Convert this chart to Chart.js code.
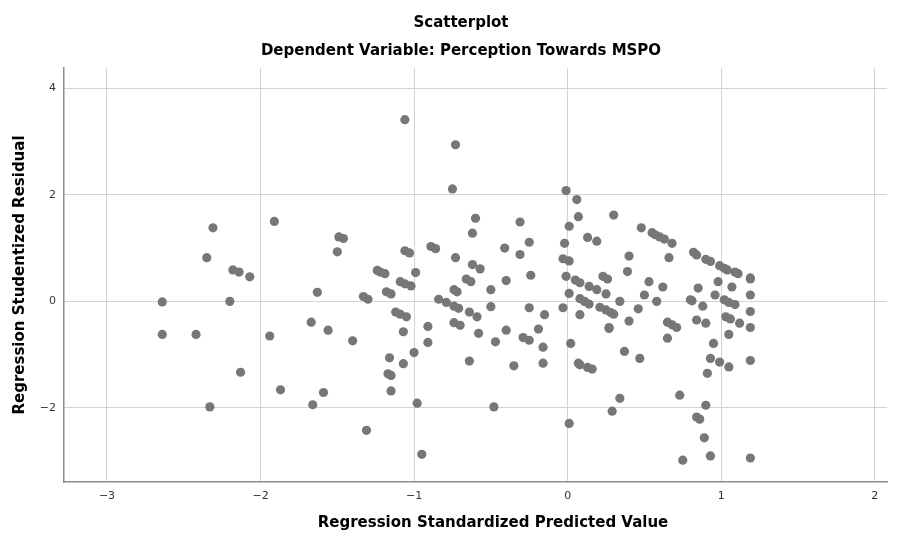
<!DOCTYPE html>
<html>
<head>
<meta charset="utf-8">
<script src="https://cdn.jsdelivr.net/npm/chart.js@4.4.1/dist/chart.umd.min.js"></script>
<style>
    html, body { margin: 0; padding: 0; background: #fff; }
    #wrap { width: 905px; height: 534px; }
</style>
</head>
<body>
<div id="wrap"><canvas id="chart" width="905" height="534"></canvas></div>
<script>
const TITLE = "Scatterplot";
const SUBTITLE = "Dependent Variable: Perception Towards MSPO";
const X_TITLE = "Regression Standardized Predicted Value";
const Y_TITLE = "Regression Studentized Residual";

// Regression standardized predicted value (x) and studentized residual (y)
const predicted = [
    -2.64, -2.64, -2.42, -2.35, -2.31, -2.33, -2.20, -2.18, -2.14, -2.13,
    -2.07, -1.94, -1.91, -1.87, -1.67, -1.66, -1.63, -1.59, -1.56, -1.49,
    -1.46, -1.50, -1.40, -1.33, -1.30, -1.31, -1.24, -1.22, -1.19, -1.18,
    -1.15, -1.17, -1.15, -1.15, -1.16, -1.12, -1.09, -1.05, -1.09, -1.06,
    -1.02, -1.07, -1.07, -1.06, -1.03, -1.06, -1.00, -0.99, -0.98, -0.95,
    -0.91, -0.91, -0.89, -0.86, -0.84, -0.79, -0.75, -0.73, -0.73, -0.74,
    -0.72, -0.74, -0.71, -0.74, -0.70, -0.66, -0.63, -0.64, -0.59, -0.64,
    -0.62, -0.62, -0.60, -0.58, -0.57, -0.50, -0.50, -0.48, -0.47, -0.41,
    -0.40, -0.40, -0.35, -0.31, -0.31, -0.29, -0.25, -0.25, -0.25, -0.24,
    -0.19, -0.16, -0.16, -0.15, -0.03, -0.03, -0.02, -0.01, -0.01, 0.01,
    0.01, 0.01, 0.01, 0.02, 0.05, 0.06, 0.07, 0.07, 0.08, 0.08,
    0.08, 0.08, 0.11, 0.13, 0.13, 0.14, 0.14, 0.16, 0.19, 0.19,
    0.21, 0.23, 0.25, 0.25, 0.26, 0.27, 0.27, 0.28, 0.29, 0.30,
    0.30, 0.34, 0.34, 0.37, 0.39, 0.40, 0.40, 0.46, 0.47, 0.48,
    0.50, 0.53, 0.55, 0.57, 0.58, 0.60, 0.62, 0.63, 0.65, 0.65,
    0.66, 0.68, 0.68, 0.71, 0.73, 0.75, 0.80, 0.81, 0.82, 0.84,
    0.84, 0.84, 0.86, 0.85, 0.88, 0.89, 0.90, 0.90, 0.90, 0.91,
    0.93, 0.93, 0.93, 0.95, 0.96, 0.98, 0.99, 0.99, 1.02, 1.02,
    1.03, 1.04, 1.05, 1.05, 1.05, 1.06, 1.07, 1.09, 1.11, 1.09,
    1.12, 1.19, 1.19, 1.19, 1.19, 1.19, 1.19, 1.19
];

const residual = [
    -0.01, -0.62, -0.62, 0.82, 1.38, -1.98, 0.00, 0.59, 0.55, -1.33,
    0.46, -0.65, 1.50, -1.66, -0.39, -1.94, 0.17, -1.71, -0.54, 1.21,
    1.18, 0.93, -0.74, 0.09, 0.04, -2.42, 0.58, 0.55, 0.52, 0.18,
    0.14, -1.36, -1.39, -1.68, -1.06, -0.20, -0.24, -0.29, 0.37, 0.33,
    0.29, -0.57, -1.17, 0.95, 0.91, 3.41, -0.96, 0.54, -1.91, -2.87,
    -0.47, -0.77, 1.03, 0.99, 0.04, -0.02, 2.11, 2.94, 0.82, 0.22,
    0.18, -0.09, -0.13, -0.40, -0.45, 0.42, 0.37, -0.20, -0.29, -1.12,
    1.28, 0.69, 1.56, -0.60, 0.61, 0.22, -0.10, -1.98, -0.76, 1.00,
    0.39, -0.54, -1.21, 0.88, 1.49, -0.68, 1.11, -0.12, -0.73, 0.49,
    -0.52, -0.86, -1.16, -0.25, 0.80, -0.12, 1.09, 2.08, 0.47, 0.76,
    0.15, -2.29, 1.41, -0.79, 0.40, 1.91, -1.16, 1.59, -0.25, 0.35,
    0.05, -1.19, 0.00, -1.24, 1.20, 0.28, -0.05, -1.27, 0.22, 1.13,
    -0.11, 0.47, 0.14, -0.16, 0.42, -0.49, -0.51, -0.21, -2.06, 1.62,
    -0.24, -1.82, 0.00, -0.94, 0.56, 0.85, -0.37, -0.14, -1.07, 1.38,
    0.12, 0.37, 1.29, 1.25, 0.00, 1.21, 0.27, 1.17, -0.69, -0.39,
    0.82, -0.44, 1.09, -0.49, -1.76, -2.98, 0.03, 0.01, 0.92, 0.87,
    -0.35, -2.17, -2.21, 0.25, -0.09, -2.56, -1.95, -0.41, 0.79, -1.35,
    -2.90, 0.75, -1.07, -0.79, 0.12, 0.37, 0.67, -1.14, 0.62, 0.03,
    -0.29, 0.59, -0.62, -1.23, -0.02, -0.33, 0.27, 0.55, 0.52, -0.06,
    -0.41, 0.44, 0.42, 0.12, -0.19, -0.49, -1.11, -2.94
];

// axis ranges and tick steps
const X_RANGE = [-3.28, 2.08];
const Y_RANGE = [-3.39, 4.38];
const X_STEP = 1;
const Y_STEP = 2;

const FONT = "'DejaVu Sans', 'Noto Sans', sans-serif";
const GRID = "#d3d3d3";
const AXIS = "#8c8c8c";
const DOT = "#777777";

function minusSign(v) {
    return v < 0 ? "\u2212" + Math.abs(v) : String(v);
}

const points = predicted.map((x, i) => ({ x, y: residual[i] }));

// titles drawn the way SPSS places them (not centred on the plot area)
const spssTitles = {
    id: "spssTitles",
    afterDraw(chart) {
        const ctx = chart.ctx;
        ctx.save();
        ctx.fillStyle = "#000";
        ctx.textAlign = "center";
        ctx.textBaseline = "middle";
        ctx.font = `bold 15px ${FONT}`;
        ctx.fillText(TITLE, 461, 23);
        ctx.fillText(SUBTITLE, 461, 51);
        ctx.fillText(X_TITLE, 493, 523);
        ctx.restore();
    }
};

new Chart(document.getElementById("chart"), {
    type: "scatter",
    data: {
        datasets: [{
            data: points,
            backgroundColor: DOT,
            borderWidth: 0,
            pointRadius: 4.6,
            pointHoverRadius: 4.6,
        }]
    },
    options: {
        responsive: false,
        animation: false,
        layout: { padding: { top: 68, right: 18, left: 0, bottom: 0 } },
        plugins: {
            legend: { display: false },
            tooltip: { enabled: false },
        },
        scales: {
            x: {
                type: "linear",
                min: X_RANGE[0],
                max: X_RANGE[1],
                afterFit: (s) => { s.height = 52; },
                grid: { color: GRID, lineWidth: 1, drawTicks: false },
                border: { color: AXIS, width: 1.5 },
                ticks: {
                    stepSize: X_STEP,
                    includeBounds: false,
                    padding: 8,
                    color: "#333",
                    font: { family: FONT, size: 11 },
                    callback: (v) => minusSign(v),
                },
            },
            y: {
                type: "linear",
                min: Y_RANGE[0],
                max: Y_RANGE[1],
                afterFit: (s) => { s.width = 64; },
                grid: { color: GRID, lineWidth: 1, drawTicks: false },
                border: { color: AXIS, width: 1.5 },
                ticks: {
                    stepSize: Y_STEP,
                    includeBounds: false,
                    padding: 8,
                    color: "#333",
                    font: { family: FONT, size: 11 },
                    callback: (v) => minusSign(v),
                },
                title: {
                    display: true,
                    text: Y_TITLE,
                    color: "#000",
                    font: { family: FONT, size: 15, weight: "bold" },
                    padding: { top: 11, bottom: 0 },
                },
            },
        },
    },
    plugins: [spssTitles],
});
</script>
</body>
</html>
